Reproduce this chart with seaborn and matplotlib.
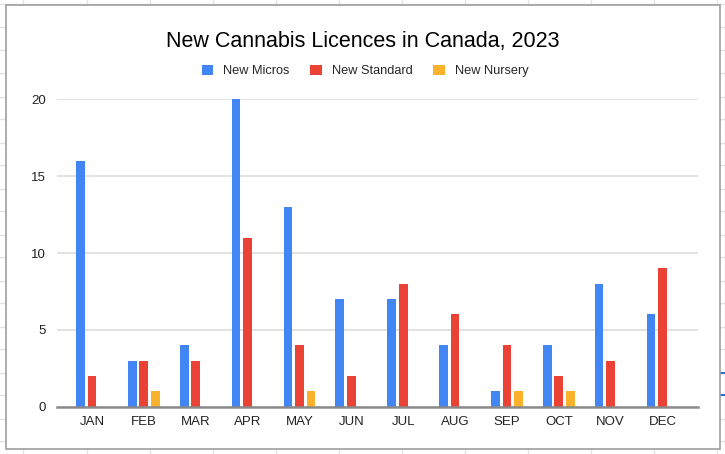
import pandas as pd
import seaborn as sns
import matplotlib.pyplot as plt
from matplotlib.lines import Line2D
from matplotlib.patches import Rectangle, Patch

#======================================================================================
# Data
months   = ['JAN', 'FEB', 'MAR', 'APR', 'MAY', 'JUN', 'JUL', 'AUG', 'SEP', 'OCT', 'NOV', 'DEC']
micros   = [16, 3, 4, 20, 13, 7, 7, 4, 1, 4, 8, 6]
standard = [2, 3, 3, 11, 4, 2, 8, 6, 4, 2, 3, 9]
nursery  = [0, 1, 0, 0, 1, 0, 0, 0, 1, 1, 0, 0]
series   = ['New Micros', 'New Standard', 'New Nursery']
colors   = ['#4285F4', '#EA4335', '#FAB12C']
yticks   = [0, 5, 10, 15, 20]

df = pd.DataFrame({'month': months * 3,
                   'series': [series[0]] * 12 + [series[1]] * 12 + [series[2]] * 12,
                   'value': micros + standard + nursery})

#======================================================================================
# Figure with spreadsheet backdrop
sns.set_style('white')
plt.rcParams['font.family'] = ['Liberation Sans', 'DejaVu Sans']

W, H = 725, 454
fig = plt.figure(figsize=(W / 100, H / 100), dpi=100)

# spreadsheet cell lines
for x in [23, 87, 150, 213, 276, 339, 402, 465, 528, 591, 654, 717]:
    fig.add_artist(Line2D([x / W, x / W], [0, 1], color='#e3e3e3', lw=1, zorder=0.5))
for y in [4, 27, 50, 73, 97, 119, 143, 165, 189, 211, 235, 257, 281, 303, 327,
          349, 373, 395, 419, 441]:
    fig.add_artist(Line2D([0, 1], [1 - y / H, 1 - y / H], color='#e3e3e3', lw=1, zorder=0.5))
# selected cell marks on the right edge
for y in [373, 395]:
    fig.add_artist(Line2D([720 / W, 1], [1 - y / H, 1 - y / H], color='#1a73e8', lw=1.5, zorder=0.6))

# chart box
fig.add_artist(Rectangle((5.5 / W, 1 - 449 / H), (720 - 5.5) / W, (449 - 5) / H,
                         facecolor='white', edgecolor='#9e9e9e', lw=1.2, zorder=1))

ax = fig.add_axes([57 / W, 1 - 406.7 / H, (698 - 57) / W, (406.7 - 99.3) / H])
ax.set_zorder(5)

sns.barplot(data=df, x='month', y='value', hue='series', order=months,
            hue_order=series, palette=colors, width=0.666, gap=0.24,
            saturation=1, legend=False, linewidth=0, ax=ax)

ax.set_xlim(-0.675, 11.685)
ax.set_ylim(0, 20)
ax.set_yticks(yticks)
ax.set_yticklabels([str(v) for v in yticks], fontsize=9.5, color='#222222')
ax.tick_params(axis='x', labelsize=9.5, colors='#222222', length=0, pad=7)
ax.tick_params(axis='y', length=0, pad=8)
ax.set_xlabel('')
ax.set_ylabel('')
ax.grid(axis='y', color='#dddddd', lw=1.2)
ax.set_axisbelow(True)
for s in ['top', 'right', 'left']:
    ax.spines[s].set_visible(False)
ax.spines['bottom'].set_color('#8a8a8a')
ax.spines['bottom'].set_linewidth(1.8)
ax.spines['bottom'].set_zorder(4)

# title & legend
fig.text(363 / W, 1 - 41 / H, 'New Cannabis Licences in Canada, 2023',
         ha='center', va='center', fontsize=15.5, color='black', zorder=6)
handles = [Patch(facecolor=c, edgecolor='none') for c in colors]
leg = fig.legend(handles, series, loc='center', bbox_to_anchor=(365 / W, 1 - 71 / H),
                 ncol=3, frameon=False, fontsize=9.2, handlelength=0.9, handleheight=0.9,
                 handletextpad=0.8, columnspacing=1.6)
leg.set_zorder(6)

fig.savefig('out.png', dpi=100)
